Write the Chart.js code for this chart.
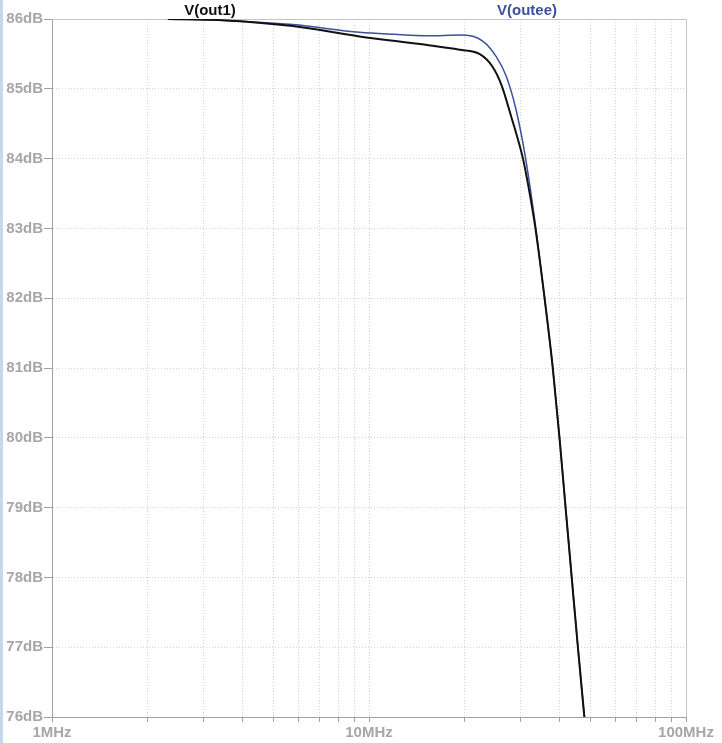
<!DOCTYPE html>
<html>
<head>
<meta charset="utf-8">
<script src="https://cdn.jsdelivr.net/npm/chart.js@4.4.1/dist/chart.umd.min.js"></script>
<style>
  html, body { margin: 0; padding: 0; background: #fff; }
  #wrap { position: relative; width: 722px; height: 743px; }
  #strip { position: absolute; left: 0; top: 0; width: 3px; height: 743px; background: #c9d7ea; }
  canvas { position: absolute; left: 0; top: 0; }
</style>
</head>
<body>
<div id="wrap">
  <canvas id="bode" width="722" height="743"></canvas>
  <div id="strip"></div>
</div>
<script>
// dados (freq em MHz, ganho em dB)
const freqOut1 = [2.32, 3.54, 5.75, 9.33, 15.1, 19.3, 22.3, 24.5, 26.2, 28.1, 29.4, 30.6, 31.9, 33.5, 35.8, 38.0, 39.9, 41.7, 43.6, 45.6, 47.8];
const gainOut1 = [86.0, 85.98, 85.90, 85.75, 85.63, 85.56, 85.50, 85.32, 85.05, 84.60, 84.30, 84.0, 83.58, 83.0, 82.0, 81.0, 80.0, 79.0, 78.0, 77.0, 76.0];

const freqOutee = [2.32, 3.54, 5.75, 9.33, 12.0, 15.1, 19.8, 22.9, 25.2, 27.1, 29.1, 31.2, 33.6, 35.8, 38.0, 39.9, 41.7, 43.6, 45.6, 47.8];
const gainOutee = [86.0, 85.98, 85.92, 85.81, 85.78, 85.76, 85.77, 85.68, 85.46, 85.18, 84.70, 84.0, 83.0, 82.0, 81.0, 80.0, 79.0, 78.0, 77.0, 76.0];

const xTicks = [1, 2, 3, 4, 5, 6, 7, 8, 9, 10, 20, 30, 40, 50, 60, 70, 80, 90, 100];
const xLabels = { 1: '1MHz', 10: '10MHz', 100: '100MHz' };
const yTicks = [76, 77, 78, 79, 80, 81, 82, 83, 84, 85, 86];

const toPoints = (xs, ys) => xs.map((x, i) => ({ x, y: ys[i] }));

const labelFont = { family: '"Liberation Sans", Arial, sans-serif', size: 15, weight: 'bold' };

// nomes dos traços no topo, estilo LTspice
const traceNames = {
  id: 'traceNames',
  afterDraw(chart) {
    const ctx = chart.ctx;
    const pos = [210, 527];
    ctx.save();
    ctx.font = 'bold 15px "Liberation Sans", Arial, sans-serif';
    ctx.textAlign = 'center';
    ctx.textBaseline = 'middle';
    chart.data.datasets.forEach((ds, i) => {
      ctx.fillStyle = ds.borderColor;
      ctx.fillText(ds.label, pos[i], 11);
    });
    ctx.restore();
  }
};

// moldura de cima e da direita
const frame = {
  id: 'frame',
  beforeDatasetsDraw(chart) {
    const { ctx, chartArea: a } = chart;
    ctx.save();
    ctx.strokeStyle = '#c4c4c4';
    ctx.lineWidth = 1;
    ctx.beginPath();
    ctx.moveTo(a.left, a.top + 0.5);
    ctx.lineTo(a.right + 0.5, a.top + 0.5);
    ctx.lineTo(a.right + 0.5, a.bottom);
    ctx.stroke();
    ctx.restore();
  }
};

new Chart(document.getElementById('bode'), {
  type: 'line',
  data: {
    datasets: [
      {
        label: 'V(out1)',
        data: toPoints(freqOut1, gainOut1),
        borderColor: '#111111',
        borderWidth: 2,
        pointRadius: 0,
        cubicInterpolationMode: 'monotone',
        fill: false
      },
      {
        label: 'V(outee)',
        data: toPoints(freqOutee, gainOutee),
        borderColor: '#3d4f9f',
        borderWidth: 1.5,
        pointRadius: 0,
        cubicInterpolationMode: 'monotone',
        fill: false
      }
    ]
  },
  options: {
    responsive: false,
    animation: false,
    devicePixelRatio: 1,
    layout: { padding: { top: 19, right: 36, left: 0, bottom: 0 } },
    plugins: { legend: { display: false }, tooltip: { enabled: false }, title: { display: false } },
    scales: {
      x: {
        type: 'logarithmic',
        min: 1,
        max: 100,
        afterBuildTicks: s => { s.ticks = xTicks.map(v => ({ value: v })); },
        afterFit: s => { s.height = 26; },
        ticks: {
          autoSkip: false,
          maxRotation: 0,
          padding: 2,
          color: '#a6a6a6',
          font: labelFont,
          callback: v => xLabels[v] || ''
        },
        grid: { color: '#d2d2d2', tickColor: '#a0a0a0', tickLength: 5 },
        border: { color: '#a0a0a0', width: 1, dash: [1, 2] }
      },
      y: {
        min: 76,
        max: 86,
        afterBuildTicks: s => { s.ticks = yTicks.map(v => ({ value: v })); },
        afterFit: s => { s.width = 52; },
        ticks: {
          padding: 1,
          color: '#a6a6a6',
          font: labelFont,
          callback: v => v + 'dB'
        },
        grid: { color: '#d2d2d2', tickColor: '#a0a0a0', tickLength: 8 },
        border: { color: '#a0a0a0', width: 1, dash: [1, 2] }
      }
    }
  },
  plugins: [frame, traceNames]
});
</script>
</body>
</html>
